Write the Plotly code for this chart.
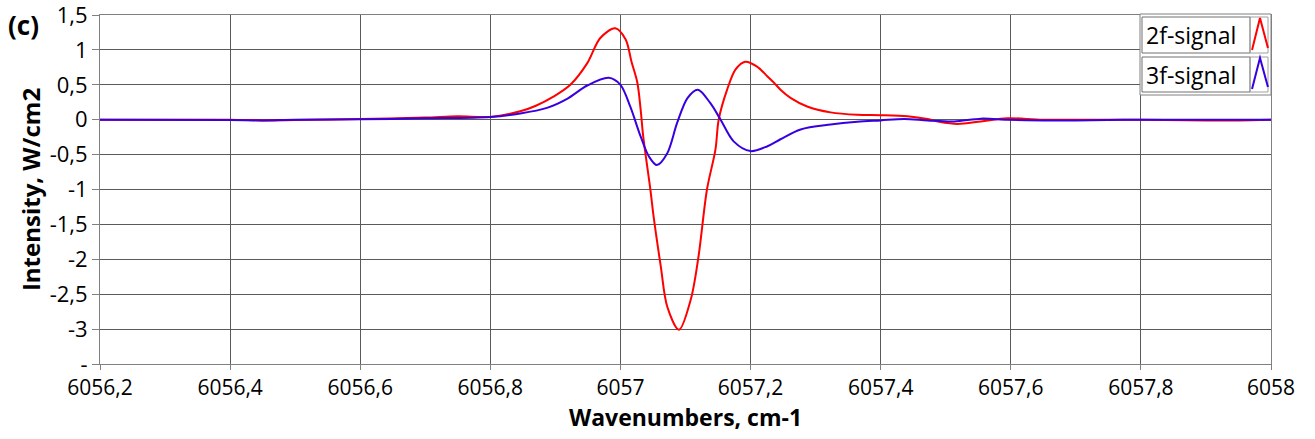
import plotly.graph_objects as go

# ---- data ----
wn_2f = [6056.20, 6056.40, 6056.45, 6056.50, 6056.60, 6056.70, 6056.75, 6056.80, 6056.846, 6056.87,
         6056.897, 6056.923, 6056.949, 6056.969, 6056.992, 6057.008, 6057.017, 6057.026, 6057.031, 6057.035,
         6057.046, 6057.051, 6057.062, 6057.072, 6057.090, 6057.108, 6057.120, 6057.133, 6057.146,
         6057.151, 6057.164, 6057.177, 6057.192, 6057.210, 6057.226, 6057.236, 6057.246, 6057.262,
         6057.287, 6057.323, 6057.364, 6057.400, 6057.441, 6057.472, 6057.490, 6057.518, 6057.554,
         6057.595, 6057.650, 6057.800, 6057.900, 6057.950, 6058.000]
sig_2f = [0.0, 0.0, -0.01, -0.005, 0.01, 0.03, 0.05, 0.04, 0.12, 0.20,
          0.33, 0.50, 0.81, 1.17, 1.31, 1.15, 0.83, 0.53, 0.15, -0.24,
          -1.0, -1.39, -2.10, -2.68, -3.01, -2.58, -1.96, -1.0, -0.43,
          0.0, 0.43, 0.72, 0.83, 0.76, 0.62, 0.53, 0.43, 0.31,
          0.19, 0.105, 0.07, 0.065, 0.05, 0.01, -0.03, -0.06, -0.025,
          0.02, 0.0, 0.0, -0.01, -0.01, 0.0]

wn_3f = [6056.20, 6056.40, 6056.45, 6056.50, 6056.60, 6056.70, 6056.80, 6056.846, 6056.887, 6056.918,
         6056.949, 6056.982, 6057.000, 6057.015, 6057.031, 6057.044, 6057.056, 6057.072, 6057.087,
         6057.103, 6057.119, 6057.138, 6057.154, 6057.174, 6057.200, 6057.226, 6057.246, 6057.277,
         6057.323, 6057.364, 6057.400, 6057.436, 6057.472, 6057.513, 6057.554, 6057.595, 6057.650,
         6057.700, 6057.800, 6058.000]
sig_3f = [0.0, -0.005, -0.01, 0.0, 0.005, 0.02, 0.04, 0.09, 0.17, 0.30,
          0.49, 0.60, 0.50, 0.19, -0.24, -0.53, -0.65, -0.48, -0.05,
          0.31, 0.43, 0.24, 0.0, -0.31, -0.45, -0.38, -0.28, -0.14,
          -0.07, -0.03, -0.01, 0.01, -0.01, -0.025, 0.015, 0.0, -0.01,
          -0.01, 0.0, 0.0]

series_names = ["2f-signal", "3f-signal"]
series_colors = ["#ff0000", "#3800e0"]

x_ticks = [6056.2, 6056.4, 6056.6, 6056.8, 6057.0, 6057.2, 6057.4, 6057.6, 6057.8, 6058.0]
x_tick_text = ["6056,2", "6056,4", "6056,6", "6056,8", "6057", "6057,2", "6057,4", "6057,6", "6057,8", "6058"]
y_ticks = [1.5, 1, 0.5, 0, -0.5, -1, -1.5, -2, -2.5, -3, -3.5]
y_tick_text = ["1,5", "1", "0,5", "0", "-0,5", "-1", "-1,5", "-2", "-2,5", "-3", "-"]

FONT = "Open Sans"

fig = go.Figure()
for xs, ys, name, col in [(wn_2f, sig_2f, series_names[0], series_colors[0]),
                          (wn_3f, sig_3f, series_names[1], series_colors[1])]:
    fig.add_trace(go.Scatter(x=xs, y=ys, mode="lines", name=name,
                             line=dict(color=col, width=2, shape="spline", smoothing=0.9),
                             showlegend=False, hoverinfo="skip"))

# plot geometry in page pixels
L, R, T, B = 100, 1271, 15, 364
PAGE_W, PAGE_H = 1315, 439
W, H = R - L, B - T
def px(x):
    return (x - L) / W
def py(y):
    return (B - y) / H

shapes = []
annotations = []
# outer legend box
shapes.append(dict(type="rect", xref="paper", yref="paper", x0=px(1140), x1=px(1271), y0=py(95), y1=py(14),
                   line=dict(color="#808080", width=1), fillcolor="white", layer="above"))
rows = [(17, 53), (57, 92)]
for (top, bot), name, col in zip(rows, series_names, series_colors):
    shapes.append(dict(type="rect", xref="paper", yref="paper", x0=px(1142), x1=px(1250), y0=py(bot), y1=py(top),
                       line=dict(color="#707070", width=1), layer="above"))
    shapes.append(dict(type="rect", xref="paper", yref="paper", x0=px(1250), x1=px(1268), y0=py(bot), y1=py(top),
                       line=dict(color="#a0a0a0", width=1), layer="above"))
    path = "M {:.4f},{:.4f} L {:.4f},{:.4f} L {:.4f},{:.4f}".format(
        px(1252), py(bot - 3), px(1260), py(top + 1), px(1268), py(bot - 5))
    shapes.append(dict(type="path", xref="paper", yref="paper", path=path,
                       line=dict(color=col, width=2), layer="above"))
    annotations.append(dict(text=name, xref="paper", yref="paper", x=px(1144), y=py((top + bot) / 2),
                            xanchor="left", yanchor="middle", showarrow=False,
                            font=dict(family=FONT, size=23, color="#000")))

annotations.append(dict(text="<b>(c)</b>", xref="paper", yref="paper", x=px(6), y=py(25),
                        xanchor="left", yanchor="middle", showarrow=False,
                        font=dict(family=FONT, size=26, color="#000")))

fig.update_layout(
    width=PAGE_W, height=PAGE_H,
    margin=dict(l=L, r=PAGE_W - R, t=T, b=PAGE_H - B),
    paper_bgcolor="white", plot_bgcolor="white",
    font=dict(family=FONT, size=20, color="#000"),
    shapes=shapes, annotations=annotations,
    showlegend=False,
)
fig.update_xaxes(
    range=[6056.2, 6058.0], tickmode="array", tickvals=x_ticks, ticktext=x_tick_text,
    showgrid=True, gridcolor="#5a5a5a", gridwidth=1,
    showline=True, linecolor="#808080", linewidth=1, mirror=True,
    ticks="outside", ticklen=5, tickcolor="#808080",
    tickfont=dict(family=FONT, size=21, color="#000"),
    title=dict(text="<b>Wavenumbers, cm-1</b>", font=dict(family=FONT, size=23, color="#000"), standoff=4),
    zeroline=False, automargin=False, ticklabeloverflow="allow",
)
fig.update_yaxes(
    range=[-3.5, 1.5], tickmode="array", tickvals=y_ticks, ticktext=y_tick_text,
    showgrid=True, gridcolor="#5a5a5a", gridwidth=1,
    showline=True, linecolor="#808080", linewidth=1, mirror=True,
    ticks="outside", ticklen=7, tickcolor="#808080",
    tickfont=dict(family=FONT, size=22, color="#000"),
    title=dict(text="<b>Intensity, W/cm2</b>", font=dict(family=FONT, size=24, color="#000"), standoff=2),
    zeroline=False, automargin=False, ticklabeloverflow="allow",
)

fig.write_html("out.html", config={"displayModeBar": False},
               post_script="document.body.style.margin='0px';")
